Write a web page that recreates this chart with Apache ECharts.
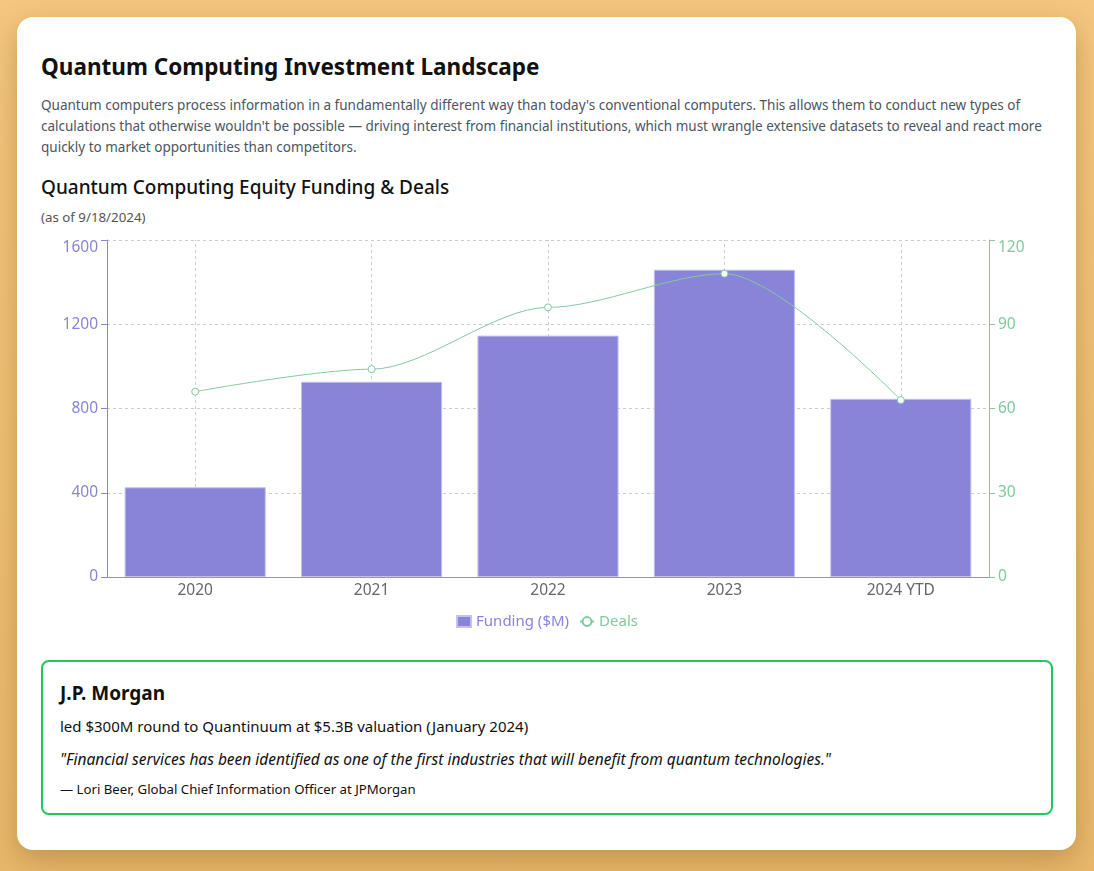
<!DOCTYPE html>
<html>
<head>
<meta charset="utf-8">
<script src="https://cdn.jsdelivr.net/npm/echarts@6/dist/echarts.min.js"></script>
<style>
  html, body { margin: 0; padding: 0; }
  body {
    width: 1094px; height: 871px; overflow: hidden;
    background: linear-gradient(180deg, #f4c67f 0%, #e9b86b 100%);
    font-family: "Noto Sans", "Open Sans", sans-serif;
  }
  .card {
    position: absolute; left: 17px; top: 17px; width: 1059px; height: 833px;
    background: #fff; border-radius: 16px; box-shadow: 0 10px 28px rgba(120,80,20,0.35);
    box-sizing: border-box; padding: 0 24px;
  }
  h1 { position: absolute; left: 24px; top: 34px; margin: 0; font-size: 22.5px; font-weight: 700; color: #111; }
  .desc { position: absolute; left: 24px; top: 78px; margin: 0; font-size: 13.5px; line-height: 21px; color: #4b5563; width: 1030px; white-space: nowrap; }
  h2 { position: absolute; left: 24px; top: 157px; margin: 0; font-size: 19px; font-weight: 500; color: #111; }
  .asof { position: absolute; left: 24px; top: 191px; font-size: 13.3px; color: #555; }
  #chart { position: absolute; left: 24px; top: 213px; width: 1012px; height: 420px; }
  .quote {
    position: absolute; left: 24px; top: 643px; width: 1012px; height: 155px; box-sizing: border-box;
    border: 2px solid #22c55e; border-radius: 8px; padding: 0 17px;
  }
  .quote .who { position: absolute; left: 17px; top: 18px; font-size: 19px; font-weight: 700; color: #111; }
  .quote .deal { position: absolute; left: 17px; top: 54px; font-size: 15px; color: #111; }
  .quote .q { position: absolute; left: 17px; top: 86px; font-size: 15.5px; font-style: italic; color: #111; }
  .quote .by { position: absolute; left: 17px; top: 118px; font-size: 13.2px; color: #111; }
</style>
</head>
<body>
<div class="card">
  <h1>Quantum Computing Investment Landscape</h1>
  <p class="desc">Quantum computers process information in a fundamentally different way than today's conventional computers. This allows them to conduct new types of<br>calculations that otherwise wouldn't be possible — driving interest from financial institutions, which must wrangle extensive datasets to reveal and react more<br>quickly to market opportunities than competitors.</p>
  <h2>Quantum Computing Equity Funding &amp; Deals</h2>
  <div class="asof">(as of 9/18/2024)</div>
  <div id="chart"></div>
  <div class="quote">
    <div class="who">J.P. Morgan</div>
    <div class="deal">led $300M round to Quantinuum at $5.3B valuation (January 2024)</div>
    <div class="q">"Financial services has been identified as one of the first industries that will benefit from quantum technologies."</div>
    <div class="by">— Lori Beer, Global Chief Information Officer at JPMorgan</div>
  </div>
</div>
<script>
// 数据
var years = ['2020', '2021', '2022', '2023', '2024 YTD'];
var funding = [426, 927, 1146, 1459, 846];
var deals = [66, 74, 96, 108, 63];
var fundingTicks = [0, 400, 800, 1200, 1600];
var dealTicks = [0, 30, 60, 90, 120];

var purple = '#8884d8';
var green = '#82ca9d';

var chartDom = document.getElementById('chart');
var myChart = echarts.init(chartDom);
var option;
option = {
    animation: false,
    textStyle: { fontFamily: 'Noto Sans' },
    // 容器顶部在 y=230
    grid: { left: 66, right: 64, top: 10, bottom: 73 },
    legend: {
        top: 379,
        left: 'center',
        itemGap: 10,
        itemWidth: 14,
        itemHeight: 11,
        textStyle: { fontSize: 15 },
        data: [
            { name: 'Funding ($M)', icon: 'rect', textStyle: { color: purple } },
            { name: 'Deals', textStyle: { color: green } }
        ]
    },
    xAxis: {
        type: 'category',
        data: years,
        axisLine: { lineStyle: { color: '#999' } },
        axisTick: { alignWithLabel: true, lineStyle: { color: '#666' } },
        axisLabel: { color: '#666', fontSize: 15.5, margin: 6 },
        splitLine: { show: false }
    },
    yAxis: [
        {
            type: 'value', min: fundingTicks[0], max: fundingTicks[fundingTicks.length - 1], interval: 400,
            axisLine: { show: true, lineStyle: { color: purple } },
            axisTick: { show: true, length: 6, lineStyle: { color: purple } },
            axisLabel: {
                color: purple, fontSize: 15.5, margin: 9, verticalAlignMaxLabel: 'top',
                formatter: function (v) { return String(v); }
            },
            splitLine: { lineStyle: { color: '#ccc', type: [3, 3] } }
        },
        {
            type: 'value', min: dealTicks[0], max: dealTicks[dealTicks.length - 1], interval: 30,
            axisLine: { show: true, lineStyle: { color: green } },
            axisTick: { show: true, length: 6, lineStyle: { color: green } },
            axisLabel: {
                color: green, fontSize: 15.5, margin: 9, verticalAlignMaxLabel: 'top',
                formatter: function (v) { return String(v); }
            },
            splitLine: { show: false }
        }
    ],
    series: [
        {
            name: 'Funding ($M)',
            type: 'bar',
            data: funding,
            barCategoryGap: '20%',
            itemStyle: { color: purple, borderColor: '#c4c0f0', borderWidth: 1 },
            markLine: {
                silent: true,
                symbol: 'none',
                label: { show: false },
                lineStyle: { color: '#ccc', type: [3, 3], width: 1 },
                z: 0,
                data: years.map(function (y) { return { xAxis: y }; })
            },
            z: 2
        },
        {
            name: 'Deals',
            type: 'line',
            yAxisIndex: 1,
            data: deals,
            smooth: 0.3,
            smoothMonotone: 'x',
            symbol: 'circle',
            symbolSize: 7,
            itemStyle: { color: '#fff', borderColor: green, borderWidth: 1 },
            lineStyle: { color: green, width: 1 },
            z: 3
        }
    ]
};
option && myChart.setOption(option);
</script>
</body>
</html>
